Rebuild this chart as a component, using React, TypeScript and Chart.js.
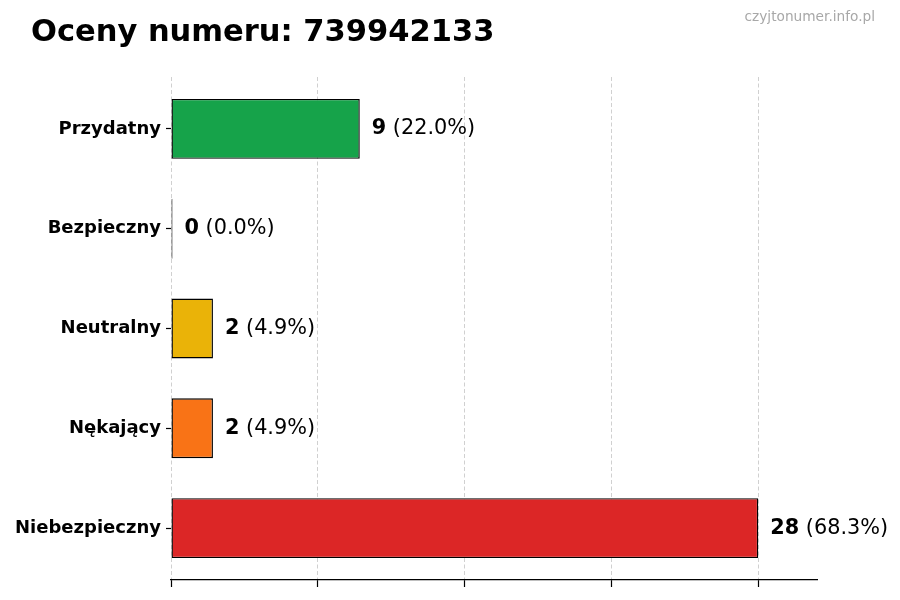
import React, { useEffect, useRef } from "react";
import { Chart, registerables } from "chart.js";

Chart.register(...registerables);

const TITLE = "Oceny numeru: 739942133";
const WATERMARK = "czyjtonumer.info.pl";
const CATEGORIES = ["Przydatny", "Bezpieczny", "Neutralny", "Nękający", "Niebezpieczny"];
const COUNTS = [9, 0, 2, 2, 28];
const COLORS = ["#16a34a", "#2563eb", "#eab308", "#f97316", "#dc2626"];
const X_TICKS = [0, 7, 14, 21, 28];
const X_MAX = 30.8;
const Y_MIN = -0.52;
const Y_MAX = 4.52;

const FONT = "'DejaVu Sans', sans-serif";

export default function App() {
  const ref = useRef<HTMLCanvasElement | null>(null);

  useEffect(() => {
    document.body.style.margin = "0";
    const canvas = ref.current;
    if (!canvas) return;
    const total = COUNTS.reduce((a, b) => a + b, 0);

    const labelPlugin = {
      id: "valueLabels",
      afterDatasetsDraw(chart: any) {
        const ctx = chart.ctx;
        const meta = chart.getDatasetMeta(0);
        ctx.save();
        ctx.textBaseline = "middle";
        ctx.textAlign = "left";
        ctx.fillStyle = "#000";
        meta.data.forEach((bar: any, i: number) => {
          const v = COUNTS[i];
          const pct = ((v / total) * 100).toFixed(1);
          const x0 = Math.max(bar.x, bar.base) + 12;
          ctx.font = `bold 20.8px ${FONT}`;
          const s1 = String(v);
          ctx.fillText(s1, x0, bar.y);
          const w1 = ctx.measureText(s1).width;
          ctx.font = `20.8px ${FONT}`;
          ctx.fillText(` (${pct}%)`, x0 + w1, bar.y);
        });
        ctx.restore();
      },
      afterDraw(chart: any) {
        const ctx = chart.ctx;
        ctx.save();
        ctx.textBaseline = "alphabetic";
        ctx.textAlign = "left";
        ctx.fillStyle = "#000";
        ctx.font = `bold 30.5px ${FONT}`;
        ctx.fillText(TITLE, 31, 41);
        ctx.textAlign = "right";
        ctx.fillStyle = "#a8a8a8";
        ctx.font = `13.7px ${FONT}`;
        ctx.fillText(WATERMARK, 875, 21);
        ctx.restore();
      },
    };

    const chart = new Chart(canvas, {
      type: "bar",
      data: {
        datasets: [
          {
            data: COUNTS.map((v, i) => ({ x: v, y: i })),
            backgroundColor: COLORS,
            borderColor: "#000",
            borderWidth: 1.4,
            borderSkipped: false,
            minBarLength: 1.5,
            barPercentage: 0.6,
            categoryPercentage: 1,
          },
        ],
      },
      options: {
        indexAxis: "y",
        animation: false,
        responsive: false,
        devicePixelRatio: 1,
        layout: { padding: { left: 0, right: 83, top: 77, bottom: 0 } },
        plugins: {
          legend: { display: false },
          tooltip: { enabled: false },
          title: { display: false },
        },
        scales: {
          x: {
            type: "linear",
            min: 0,
            max: X_MAX,
            z: 1,
            afterBuildTicks: (scale: any) => {
              scale.ticks = X_TICKS.map((v) => ({ value: v }));
            },
            afterFit: (scale: any) => {
              scale.height = 20;
            },
            ticks: { display: false },
            grid: {
              display: true,
              drawOnChartArea: true,
              drawTicks: true,
              color: "rgba(176,176,176,0.6)",
              lineWidth: 1,
              tickLength: 7,
              tickColor: "#000",
              tickWidth: 1.2,
              tickBorderDash: [],
            },
            border: { display: true, color: "#000", width: 1.2, dash: [4, 2.5] },
          },
          y: {
            type: "linear",
            reverse: true,
            offset: false,
            min: Y_MIN,
            max: Y_MAX,
            afterBuildTicks: (scale: any) => {
              scale.ticks = CATEGORIES.map((_, i) => ({ value: i }));
            },
            afterFit: (scale: any) => {
              scale.width = 171;
            },
            ticks: {
              color: "#000",
              font: { family: FONT, size: 18, weight: "bold" },
              padding: 5,
              callback: (v: any) => CATEGORIES[Number(v)] ?? "",
            },
            grid: {
              display: true,
              offset: false,
              drawOnChartArea: false,
              drawTicks: true,
              tickLength: 5,
              tickColor: "#000",
              tickWidth: 1.2,
            },
            border: { display: false },
          },
        },
      },
      plugins: [labelPlugin],
    } as any);

    return () => chart.destroy();
  }, []);

  return (
    <div style={{ width: 900, height: 600, background: "#fff" }}>
      <canvas ref={ref} width={900} height={600} style={{ display: "block" }} />
    </div>
  );
}
